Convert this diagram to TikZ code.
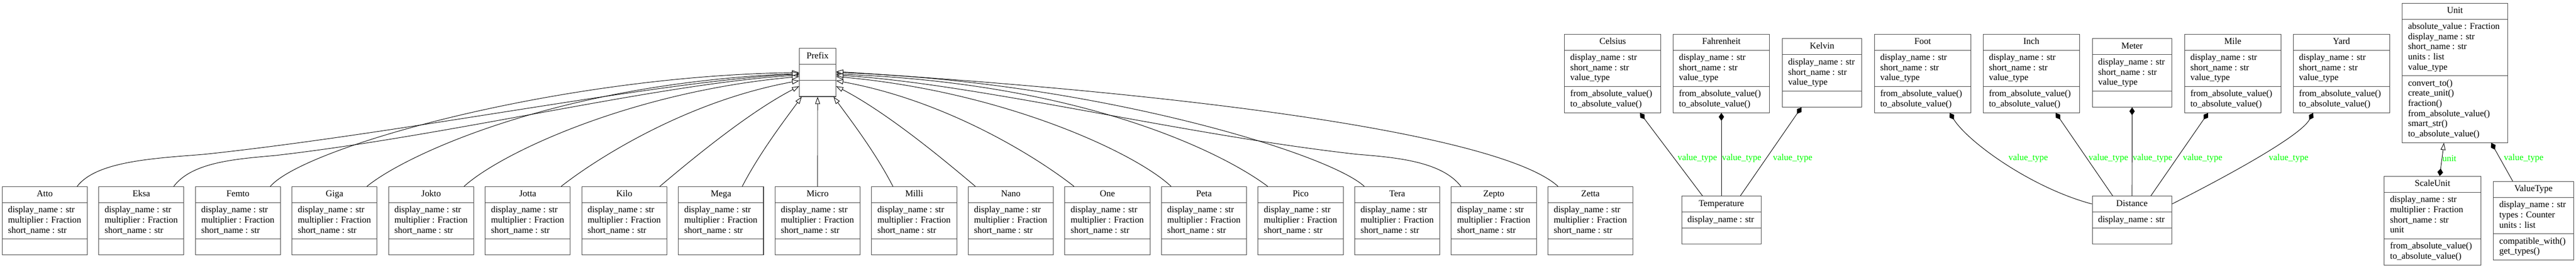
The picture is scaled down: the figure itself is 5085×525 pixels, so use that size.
\documentclass[tikz,border=0pt]{standalone}
\usepackage{fontspec}
\setmainfont{Liberation Serif}
\usepackage{tikz}
\usetikzlibrary{arrows.meta, shapes.multipart}
\definecolor{labelgreen}{RGB}{0,255,0}
\newcommand{\umlfont}{\fontsize{10.1}{11.38}\selectfont}
\newcommand{\umlw}{2.9cm}
\newcommand{\umltitle}[1]{\makebox[\umlw]{\strut #1}}
\newcommand{\umlrows}[1]{\parbox{\umlw}{\raggedright\hyphenpenalty=10000\strut #1\strut}}
\newcommand{\prefixattrs}{\umlrows{display\_name : str\\ multiplier : Fraction\\ short\_name : str}}
\newcommand{\unitattrs}{\umlrows{display\_name : str\\ short\_name : str\\ value\_type}}
\newcommand{\convmethods}{\umlrows{from\_absolute\_value()\\ to\_absolute\_value()}}
\tikzset{
  umlclass/.style={draw=black!75, line width=0.6pt, rectangle split, rectangle split parts=3,
    inner xsep=0.23cm, inner ysep=0.105cm, font=\umlfont, anchor=north},
  boxwidth/.style={/utils/exec={\renewcommand{\umlw}{#1}}},
  prefixbox/.style={umlclass, boxwidth=2.9cm},
  widebox/.style={umlclass, boxwidth=3.35cm},
  narrowbox/.style={umlclass, boxwidth=2.68cm},
  inherit/.style={line width=0.55pt, -{Triangle[open, length=0.28cm, width=0.19cm, fill=white]}},
  compose/.style={line width=0.55pt, -{Diamond[length=0.31cm, width=0.21cm]}},
  lbl/.style={text=labelgreen, font=\umlfont, inner sep=0pt},
}

\begin{document}
\begin{tikzpicture}[x=0.02cm, y=-0.02cm]
  \useasboundingbox (0,0) rectangle (5085,525);
  % base class and the prefixes
  \node[umlclass, boxwidth=0.98cm] (prefix) at (1614,95) {\umltitle{Prefix}\nodepart{two}\strut\nodepart{three}\strut};
  \node[prefixbox] (atto) at (88.3,367) {\umltitle{Atto}\nodepart{two}\prefixattrs\nodepart{three}\strut};
  \node[prefixbox] (eksa) at (279,367) {\umltitle{Eksa}\nodepart{two}\prefixattrs\nodepart{three}\strut};
  \node[prefixbox] (femto) at (469.7,367) {\umltitle{Femto}\nodepart{two}\prefixattrs\nodepart{three}\strut};
  \node[prefixbox] (giga) at (660.4,367) {\umltitle{Giga}\nodepart{two}\prefixattrs\nodepart{three}\strut};
  \node[prefixbox] (jokto) at (851.1,367) {\umltitle{Jokto}\nodepart{two}\prefixattrs\nodepart{three}\strut};
  \node[prefixbox] (jotta) at (1041.8,367) {\umltitle{Jotta}\nodepart{two}\prefixattrs\nodepart{three}\strut};
  \node[prefixbox] (kilo) at (1232.5,367) {\umltitle{Kilo}\nodepart{two}\prefixattrs\nodepart{three}\strut};
  \node[prefixbox] (mega) at (1423.2,367) {\umltitle{Mega}\nodepart{two}\prefixattrs\nodepart{three}\strut};
  \node[prefixbox] (micro) at (1613.9,367) {\umltitle{Micro}\nodepart{two}\prefixattrs\nodepart{three}\strut};
  \node[prefixbox] (milli) at (1804.6,367) {\umltitle{Milli}\nodepart{two}\prefixattrs\nodepart{three}\strut};
  \node[prefixbox] (nano) at (1995.3,367) {\umltitle{Nano}\nodepart{two}\prefixattrs\nodepart{three}\strut};
  \node[prefixbox] (one) at (2186,367) {\umltitle{One}\nodepart{two}\prefixattrs\nodepart{three}\strut};
  \node[prefixbox] (peta) at (2376.7,367) {\umltitle{Peta}\nodepart{two}\prefixattrs\nodepart{three}\strut};
  \node[prefixbox] (pico) at (2567.4,367) {\umltitle{Pico}\nodepart{two}\prefixattrs\nodepart{three}\strut};
  \node[prefixbox] (tera) at (2758.1,367) {\umltitle{Tera}\nodepart{two}\prefixattrs\nodepart{three}\strut};
  \node[prefixbox] (zepto) at (2948.8,367) {\umltitle{Zepto}\nodepart{two}\prefixattrs\nodepart{three}\strut};
  \node[prefixbox] (zetta) at (3139.5,367) {\umltitle{Zetta}\nodepart{two}\prefixattrs\nodepart{three}\strut};
  % units
  \node[widebox] (celsius) at (3183.5,66.7) {\umltitle{Celsius}\nodepart{two}\unitattrs\nodepart{three}\convmethods};
  \node[widebox] (fahrenheit) at (3398,66.7) {\umltitle{Fahrenheit}\nodepart{two}\unitattrs\nodepart{three}\convmethods};
  \node[narrowbox] (kelvin) at (3596.7,75.7) {\umltitle{Kelvin}\nodepart{two}\unitattrs\nodepart{three}\strut};
  \node[widebox] (foot) at (3795.3,66.7) {\umltitle{Foot}\nodepart{two}\unitattrs\nodepart{three}\convmethods};
  \node[widebox] (inch) at (4009.9,66.7) {\umltitle{Inch}\nodepart{two}\unitattrs\nodepart{three}\convmethods};
  \node[narrowbox] (meter) at (4208.7,75.7) {\umltitle{Meter}\nodepart{two}\unitattrs\nodepart{three}\strut};
  \node[widebox] (mile) at (4407.5,66.7) {\umltitle{Mile}\nodepart{two}\unitattrs\nodepart{three}\convmethods};
  \node[widebox] (yard) at (4622,66.7) {\umltitle{Yard}\nodepart{two}\unitattrs\nodepart{three}\convmethods};
  \node[narrowbox] (temperature) at (3398,385.7) {\umltitle{Temperature}\nodepart{two}\umlrows{display\_name : str}\nodepart{three}\strut};
  \node[narrowbox] (distance) at (4208.5,385.7) {\umltitle{Distance}\nodepart{two}\umlrows{display\_name : str}\nodepart{three}\strut};
  \node[umlclass, boxwidth=3.7cm] (unit) at (4846,5.7) {\umltitle{Unit}\nodepart{two}\umlrows{absolute\_value : Fraction\\ display\_name : str\\ short\_name : str\\ units : list\\ value\_type}\nodepart{three}\umlrows{convert\_to()\\ create\_unit()\\ fraction()\\ from\_absolute\_value()\\ smart\_str()\\ to\_absolute\_value()}};
  \node[widebox] (scaleunit) at (4801.7,346.7) {\umltitle{ScaleUnit}\nodepart{two}\umlrows{display\_name : str\\ multiplier : Fraction\\ short\_name : str\\ unit}\nodepart{three}\convmethods};
  \node[umlclass, boxwidth=2.7cm] (valuetype) at (5001,356.7) {\umltitle{ValueType}\nodepart{two}\umlrows{display\_name : str\\ types : Counter\\ units : list}\nodepart{three}\umlrows{compatible\_with()\\ get\_types()}};
  % inheritance
  \draw[inherit] ([xshift=1.28cm]atto.north) .. controls (190,318) and (300,312) .. (402,304) .. controls (800,262) and (1300,160) .. ([yshift=-0.06cm]prefix.west);
  \draw[inherit] ([xshift=1.28cm]eksa.north) .. controls (380,318) and (470,313) .. (545,306) .. controls (900,265) and (1300,165) .. ([yshift=-0.1cm]prefix.west);
  \draw[inherit] ([xshift=1.28cm]femto.north) .. controls (600,290) and (1100,150) .. (prefix.west);
  \draw[inherit] ([xshift=1.28cm]giga.north) .. controls (800,305) and (1100,165) .. ([yshift=-0.04cm]prefix.west);
  \draw[inherit] ([xshift=1.3cm]jokto.north) .. controls (990,300) and (1250,180) .. ([yshift=-0.16cm]prefix.west);
  \draw[inherit] ([xshift=1.32cm]jotta.north) .. controls (1170,318) and (1350,200) .. ([yshift=-0.32cm]prefix.west);
  \draw[inherit] ([xshift=1.4cm]kilo.north) .. controls (1370,310) and (1480,220) .. ([yshift=-0.54cm]prefix.west);
  \draw[inherit] ([xshift=0.84cm]mega.north) .. controls (1500,300) and (1550,235) .. ([xshift=0.1cm]prefix.south west);
  \draw[inherit] (micro.north) -- (prefix.south);
  \draw[inherit] ([xshift=-0.84cm]milli.north) .. controls (1728,300) and (1678,235) .. ([xshift=-0.1cm]prefix.south east);
  \draw[inherit] ([xshift=-1.4cm]nano.north) .. controls (1858,310) and (1748,220) .. ([yshift=-0.54cm]prefix.east);
  \draw[inherit] ([xshift=-1.32cm]one.north) .. controls (2058,318) and (1878,200) .. ([yshift=-0.32cm]prefix.east);
  \draw[inherit] ([xshift=-1.3cm]peta.north) .. controls (2240,300) and (1980,180) .. ([yshift=-0.16cm]prefix.east);
  \draw[inherit] ([xshift=-1.3cm]pico.north) .. controls (2420,305) and (2150,165) .. ([yshift=-0.06cm]prefix.east);
  \draw[inherit] ([xshift=-1.3cm]tera.north) .. controls (2620,300) and (2150,160) .. (prefix.east);
  \draw[inherit] ([xshift=-1.3cm]zepto.north) .. controls (2846,318) and (2756,310) .. (2680,304) .. controls (2330,265) and (1930,165) .. ([yshift=-0.1cm]prefix.east);
  \draw[inherit] ([xshift=-1.28cm]zetta.north) .. controls (2980,280) and (2500,195) .. ([yshift=0.04cm]prefix.east);
  % value types
  \draw[compose] ([xshift=-0.746cm]temperature.north) -- ([xshift=1.076cm]celsius.south);
  \draw[compose] (temperature.north) -- (fahrenheit.south);
  \draw[compose] ([xshift=0.748cm]temperature.north) -- ([xshift=-0.814cm]kelvin.south);
  \draw[compose] ([yshift=-0.32cm]distance.north west) .. controls (4010,370) and (3885,280) .. ([xshift=1.068cm]foot.south);
  \draw[compose] ([xshift=-0.762cm]distance.north) -- ([xshift=0.962cm]inch.south);
  \draw[compose] (distance.north) -- (meter.south);
  \draw[compose] ([xshift=0.744cm]distance.north) -- ([xshift=-0.974cm]mile.south);
  \draw[compose] ([yshift=-0.32cm]distance.north east) .. controls (4380,355) and (4540,270) .. ([xshift=-1.12cm]yard.south);
  \draw[line width=0.55pt, {Diamond[length=0.3cm, width=0.22cm]}-{Triangle[open, length=0.28cm, width=0.19cm, fill=white]}] ([xshift=0.286cm]scaleunit.north) -- ([xshift=-0.434cm]unit.south);
  \draw[compose] ([xshift=-0.82cm]valuetype.north) -- ([xshift=1.434cm]unit.south);
  \node[lbl] (vt-celsius) at (3350.6,312) {value\_type};
  \node[lbl] (vt-fahrenheit) at (3438,312) {value\_type};
  \node[lbl] (vt-kelvin) at (3538.7,312) {value\_type};
  \node[lbl] (vt-foot) at (4003.7,312) {value\_type};
  \node[lbl] (vt-inch) at (4162,312) {value\_type};
  \node[lbl] (vt-meter) at (4249,312) {value\_type};
  \node[lbl] (vt-mile) at (4348,312) {value\_type};
  \node[lbl] (vt-yard) at (4517.7,312) {value\_type};
  \node[lbl] (lbl-unit) at (4835,312) {unit};
  \node[lbl] (vt-valuetype) at (4981.7,312) {value\_type};
\end{tikzpicture}
\end{document}
